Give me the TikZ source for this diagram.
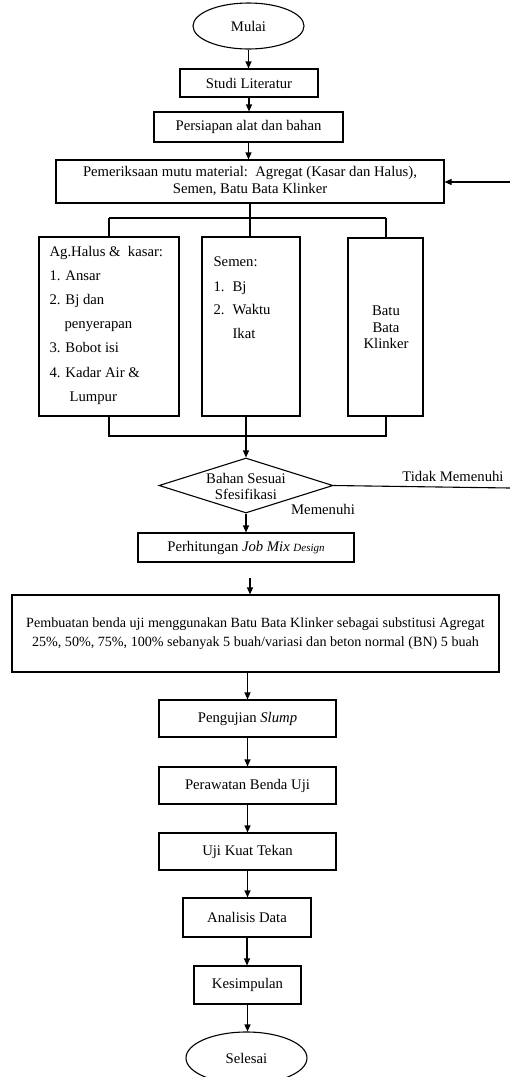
\documentclass[tikz,border=0pt]{standalone}
\usepackage{fontspec}
\setmainfont{Liberation Serif}
\usetikzlibrary{arrows.meta,shapes.geometric}
\newcommand\fs{\fontsize{14.7}{17}\selectfont}
\newcommand\fss{\fontsize{14.1}{19}\selectfont}
\begin{document}
\begin{tikzpicture}[x=1pt,y=-1pt,line width=1.1pt,
  box/.style={draw,rectangle,inner sep=0pt,font=\fs,align=center},
  oval/.style={draw,ellipse,inner sep=0pt,font=\fs},
  txt/.style={inner sep=0pt,font=\fs},
  arr/.style={-{Triangle[length=7pt,width=6pt]}}]
\useasboundingbox (0,0) rectangle (510,1077);
\node[oval,minimum width=111pt,minimum height=46pt] (mulai) at (248.5,26) {Mulai};
\node[box,minimum width=138pt,minimum height=28pt] (studi) at (249,83) {Studi Literatur};
\node[box,minimum width=189pt,minimum height=30pt] (pers) at (248.5,127) {Persiapan alat dan bahan};
\node[box,minimum width=388pt,minimum height=43pt] (pem) at (250,181.5) {Pemeriksaan mutu material:\ \ Agregat (Kasar dan Halus),\\Semen, Batu Bata Klinker};
\node[box,minimum width=140pt,minimum height=179pt] (left) at (109,326.5) {};
\node[box,minimum width=98pt,minimum height=179pt] (mid) at (251,326.5) {};
\node[box,minimum width=75pt,minimum height=178pt] (right) at (385.5,327) {};
% left text
\node[txt,anchor=base west] (l1) at (49,256) {Ag.Halus \&\ \ kasar:};
\node[txt,anchor=base west] (l2) at (49,280) {1. Ansar};
\node[txt,anchor=base west] (l3) at (49,304) {2. Bj dan};
\node[txt,anchor=base west] (l4) at (64,328) {penyerapan};
\node[txt,anchor=base west] (l5) at (49,352) {3. Bobot isi};
\node[txt,anchor=base west] (l6) at (49,377) {4. Kadar Air \&};
\node[txt,anchor=base west] (l7) at (69,401) {Lumpur};
% mid text
\node[txt,anchor=base west] (m1) at (213,266) {Semen:};
\node[txt,anchor=base west] (m2) at (213,291) {1.};
\node[txt,anchor=base west] (m3) at (232,291) {Bj};
\node[txt,anchor=base west] (m4) at (213,314) {2.};
\node[txt,anchor=base west] (m5) at (232,314) {Waktu};
\node[txt,anchor=base west] (m6) at (232,338) {Ikat};
% right text
\node[txt,align=center,font=\fontsize{14.7}{16.5}\selectfont] (r1) at (386,327.5) {Batu\\Bata\\Klinker};
% decision
\node[draw,diamond,minimum width=174pt,minimum height=55pt,inner sep=0pt] (dec) at (246,485.5) {};
\node[txt,align=center,font=\fontsize{14.7}{15.5}\selectfont] (dect) at (246,486.5) {Bahan Sesuai\\Sfesifikasi};
\node[txt] (tidak) at (453,476) {Tidak Memenuhi};
\node[txt] (memen) at (323,509) {Memenuhi};
\node[box,minimum width=216pt,minimum height=29pt] (perh) at (246,547.5) {Perhitungan \textit{Job Mix} {\fontsize{11}{12}\selectfont\textit{Design}}};
\node[box,minimum width=487pt,minimum height=77pt,font=\fss] (pemb) at (255.5,633.5) {Pembuatan benda uji menggunakan Batu Bata Klinker sebagai substitusi Agregat\\25\%, 50\%, 75\%, 100\% sebanyak 5 buah/variasi dan beton normal (BN) 5 buah};
\node[box,minimum width=177pt,minimum height=37pt] (slump) at (247.5,718.5) {Pengujian \textit{Slump}};
\node[box,minimum width=177pt,minimum height=37pt] (rawat) at (247.5,785.5) {Perawatan Benda Uji};
\node[box,minimum width=177pt,minimum height=37pt] (uji) at (247.5,851.5) {Uji Kuat Tekan};
\node[box,minimum width=128pt,minimum height=39pt] (anal) at (247,917.5) {Analisis Data};
\node[box,minimum width=107pt,minimum height=38pt] (kes) at (247.5,985) {Kesimpulan};
\node[oval,minimum width=121pt,minimum height=52pt] (sel) at (246.5,1058) {Selesai};
% connectors
\draw[arr] (mulai.south) -- (mulai.south |- studi.north);
\draw[arr] (studi.south) -- (studi.south |- pers.north);
\draw[arr] (pers.south) -- (pers.south |- pem.north);
\coordinate (j1) at (250,218);
\coordinate (jl) at (109,218);
\coordinate (jr) at (386,218);
\draw (pem.south) -- (j1);
\draw (jl) -- (jr);
\draw (jl) -- (jl |- left.north);
\draw (j1) -- (j1 |- mid.north);
\draw (jr) -- (jr |- right.north);
\coordinate (bl) at (109,436);
\coordinate (br) at (386,436);
\draw (bl |- left.south) -- (bl) -- (br) -- (br |- right.south);
\draw[arr] (dec.north |- mid.south) -- (dec.north);
\coordinate (tr) at (510,488);
\coordinate (fb) at (510,182);
\draw (dec.east) -- (tr);
\draw[arr] (fb) -- (pem.east |- fb);
\draw[arr] (dec.south) -- (dec.south |- perh.north);
\coordinate (a1) at (250,578);
\draw[arr] (a1) -- (a1 |- pemb.north);
\draw[arr] (slump.north |- pemb.south) -- (slump.north);
\draw[arr] (slump.south) -- (rawat.north);
\draw[arr] (rawat.south) -- (uji.north);
\draw[arr] (uji.south) -- (uji.south |- anal.north);
\draw[arr] (anal.south) -- (anal.south |- kes.north);
\draw[arr] (kes.south) -- (kes.south |- sel.north);
\end{tikzpicture}
\end{document}
